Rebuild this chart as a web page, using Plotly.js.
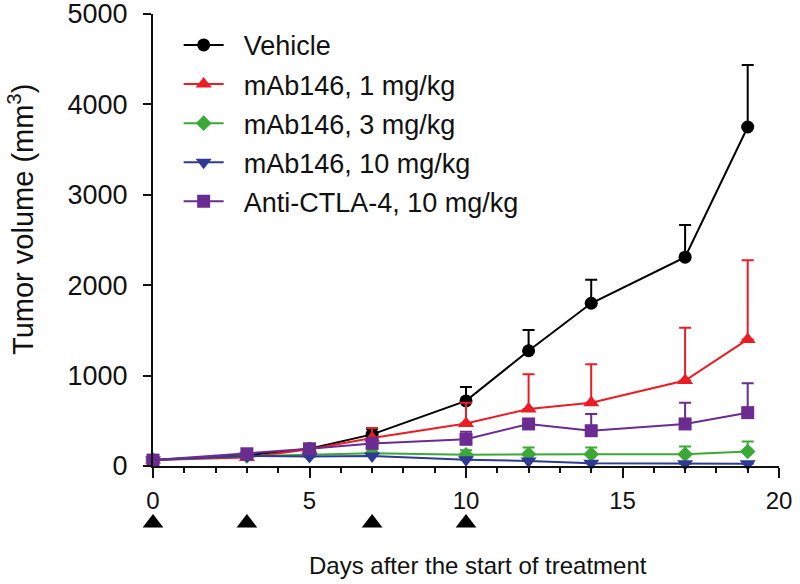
<!DOCTYPE html>
<html>
<head>
<meta charset="utf-8">
<script src="https://cdn.plot.ly/plotly-3.0.1.min.js"></script>
<style>html,body{margin:0;padding:0;background:#fff;}#chart{width:800px;height:584px;}</style>
</head>
<body>
<div id="chart"></div>
<script>
const days = [0, 3, 5, 7, 10, 12, 14, 17, 19];
const seriesNames = ["Vehicle", "mAb146, 1 mg/kg", "mAb146, 3 mg/kg", "mAb146, 10 mg/kg", "Anti-CTLA-4, 10 mg/kg"];
const vehicle = [65, 120, 190, 350, 720, 1275, 1800, 2310, 3750];
const vehicleErr = [0, 20, 30, 60, 155, 230, 260, 355, 685];
const mab1 = [65, 95, 185, 310, 470, 630, 700, 945, 1400];
const mab1Err = [0, 15, 25, 110, 230, 385, 425, 585, 875];
const mab3 = [65, 110, 125, 140, 125, 130, 130, 130, 160];
const mab3Err = [0, 10, 15, 20, 50, 75, 75, 85, 110];
const mab10 = [65, 110, 105, 110, 70, 55, 30, 25, 25];
const mab10Err = [0, 10, 15, 20, 10, 10, 10, 10, 10];
const ctla4 = [65, 135, 190, 250, 295, 465, 390, 465, 590];
const ctla4Err = [0, 15, 20, 40, 85, 50, 185, 235, 325];
const doseDays = [0, 3, 7, 10];
const xTitle = "Days after the start of treatment";
const yTitle = "Tumor volume (mm<sup>3</sup>)";

const colors = ["#000000", "#ec1c24", "#3aa935", "#2e3a94", "#6a2c91"];
const symbols = ["circle", "triangle-up", "diamond", "triangle-down", "square"];
const sizes = [13, 14, 12, 14, 13];
const ys = [vehicle, mab1, mab3, mab10, ctla4];
const errs = [vehicleErr, mab1Err, mab3Err, mab10Err, ctla4Err];
const pad = "\u00a0\u00a0";

const traces = ys.map((y, i) => ({
  x: days, y: y, type: "scatter", mode: "lines+markers", name: pad + seriesNames[i],
  legendgroup: "g" + i,
  line: {color: colors[i], width: 2},
  marker: {color: colors[i], symbol: symbols[i], size: sizes[i]},
  error_y: {type: "data", symmetric: false, array: errs[i], arrayminus: errs[i].map(() => 0),
            color: colors[i], thickness: 2, width: 6},
  cliponaxis: false
}));

// dosing-day triangles in a strip below the x axis (hidden y axis 2)
traces.push({
  x: doseDays, y: doseDays.map(() => 0.27), yaxis: "y2", type: "scatter", mode: "markers",
  showlegend: false, hoverinfo: "skip", cliponaxis: false,
  marker: {color: "#000", symbol: "triangle-up", size: 18}
});

const annotations = [
  {x: 0.519, xref: "paper", y: -0.04, yref: "paper", text: xTitle, showarrow: false,
   font: {size: 24, color: "#111"}, xanchor: "center", yanchor: "middle"},
  {x: -0.212, xref: "paper", y: 0.612, yref: "paper", text: yTitle, showarrow: false, textangle: -90,
   font: {size: 29, color: "#111"}, xanchor: "center", yanchor: "middle"}
];

const layout = {
  width: 800, height: 584,
  margin: {l: 153, r: 21, t: 14, b: 40},
  paper_bgcolor: "#fff", plot_bgcolor: "#fff",
  font: {family: "Liberation Sans, Arial, sans-serif", color: "#111", size: 24},
  showlegend: true,
  legend: {x: 0.041, y: 0.987, xanchor: "left", yanchor: "top", bgcolor: "rgba(0,0,0,0)",
           font: {size: 27}, tracegroupgap: 1, itemwidth: 40, traceorder: "grouped"},
  annotations: annotations,
  xaxis: {range: [0, 20], anchor: "y", tickvals: [0, 5, 10, 15, 20], ticks: "outside", ticklen: 10, tickwidth: 2,
          tickcolor: "#111", showline: true, linecolor: "#111", linewidth: 2, showgrid: false, zeroline: false,
          minor: {dtick: 1, ticks: "outside", ticklen: 5, tickwidth: 2, tickcolor: "#111", showgrid: false},
          tickfont: {size: 24}, ticklabelstandoff: 2, ticklabeloverflow: "allow"},
  yaxis: {domain: [0.1472, 1], range: [0, 5000], tickvals: [0, 1000, 2000, 3000, 4000, 5000], ticks: "outside", ticklen: 8,
          tickwidth: 2, tickcolor: "#111", showline: true, linecolor: "#111", linewidth: 2,
          showgrid: false, zeroline: false, tickfont: {size: 27}, ticklabelstandoff: 10,
          ticklabeloverflow: "allow"},
  yaxis2: {domain: [0, 0.1472], range: [0, 1], anchor: "x", visible: false, showgrid: false, zeroline: false}
};
Plotly.newPlot("chart", traces, layout, {displayModeBar: false, staticPlot: true});
</script>
</body>
</html>
